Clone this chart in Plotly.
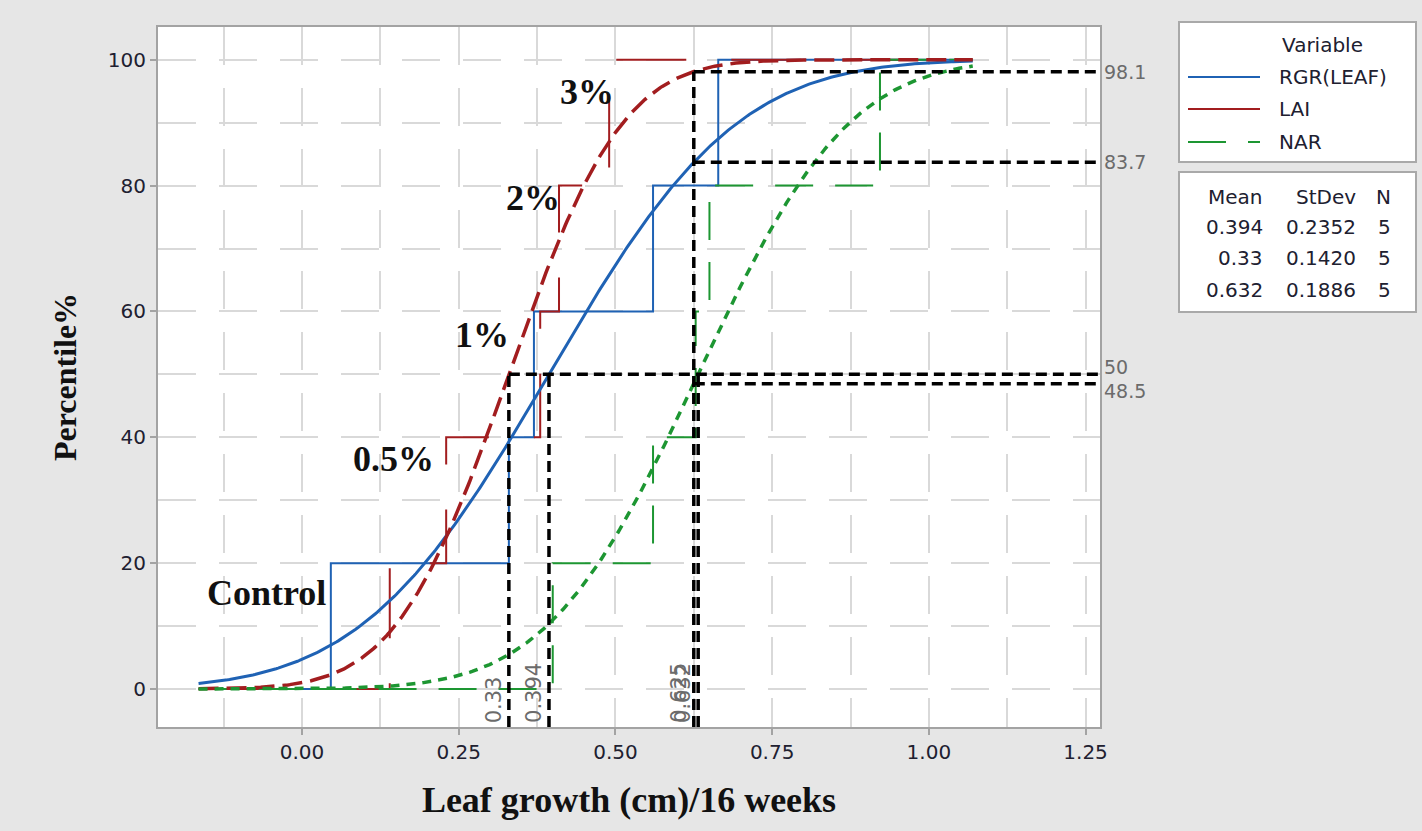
import math
import numpy as np
import plotly.graph_objects as go

# ---------------- data ----------------
variables = ["RGR(LEAF)", "LAI", "NAR"]
rgr_leaf = [0.046, 0.33, 0.37, 0.56, 0.664]
lai = [0.14, 0.23, 0.38, 0.41, 0.49]
nar = [0.40, 0.56, 0.628, 0.65, 0.922]
means = [0.394, 0.33, 0.632]
stdevs = [0.2352, 0.1420, 0.1886]
counts = [5, 5, 5]
mean_text = ["0.394", "0.33", "0.632"]
stdev_text = ["0.2352", "0.1420", "0.1886"]

ref_percentile = 50
ref_x_value = 0.625
ref_x_percentiles = [98.1, 83.7, 48.5]
ref_x_percentile_text = ["98.1", "83.7", "48.5"]
ref_percentile_text = "50"
ref_x_text = "0.625"

treatments = ["Control", "0.5%", "1%", "2%", "3%"]

x_tick_values = [0.0, 0.25, 0.5, 0.75, 1.0, 1.25]
x_tick_labels = ["0.00", "0.25", "0.50", "0.75", "1.00", "1.25"]
y_tick_values = [0, 20, 40, 60, 80, 100]
y_tick_labels = ["0", "20", "40", "60", "80", "100"]

# ---------------- style / layout constants ----------------
X_RANGE = [-0.2297, 1.273]
Y_RANGE = [-6.04, 105.2]
FIT_MIN, FIT_MAX = -0.165, 1.07

colors = ["#1f62b4", "#a21d1f", "#1d9632"]
step_dash = ["solid", "0px,12px,70px,33px", "38px,22px"]
legend_dash = ["solid", "solid", "38px,22px"]
fit_dash = ["solid", "20px,8px", "9px,7px"]

SANS = "DejaVu Sans"
SERIF = "Liberation Serif"
TXT = "#202030"
GRAY_TXT = "#6b6b6b"

datasets = [rgr_leaf, lai, nar]

fig = go.Figure()

# empirical CDF steps
for name, vals, col, dsh in zip(variables, datasets, colors, step_dash):
    n = len(vals)
    xs = [FIT_MIN] + sorted(vals) + [FIT_MAX]
    ys = [0] + [100.0 * (i + 1) / n for i in range(n)] + [100]
    fig.add_trace(go.Scatter(x=xs, y=ys, mode="lines", name=name,
                             line=dict(color=col, width=2, dash=dsh, shape="hv"),
                             showlegend=False, hoverinfo="skip"))

# fitted normal CDFs
xg = np.linspace(FIT_MIN, FIT_MAX, 400)
for name, m, s, col, dsh in zip(variables, means, stdevs, colors, fit_dash):
    yg = [50.0 * (1.0 + math.erf((xv - m) / (s * math.sqrt(2.0)))) for xv in xg]
    fig.add_trace(go.Scatter(x=xg, y=yg, mode="lines", name=name + " fit",
                             line=dict(color=col, width=3.5 if dsh != "solid" else 3, dash=dsh),
                             showlegend=False, hoverinfo="skip"))

# reference lines
REF = dict(color="black", width=3.5, dash="11px,6px")
for m in means:
    fig.add_trace(go.Scatter(x=[m, m], y=[Y_RANGE[0], ref_percentile], mode="lines",
                             line=REF, showlegend=False, hoverinfo="skip"))
fig.add_trace(go.Scatter(x=[min(means), X_RANGE[1]], y=[ref_percentile, ref_percentile],
                         mode="lines", line=REF, showlegend=False, hoverinfo="skip"))
fig.add_trace(go.Scatter(x=[ref_x_value, ref_x_value], y=[Y_RANGE[0], max(ref_x_percentiles)],
                         mode="lines", line=REF, showlegend=False, hoverinfo="skip"))
for p in ref_x_percentiles:
    fig.add_trace(go.Scatter(x=[ref_x_value, X_RANGE[1]], y=[p, p], mode="lines",
                             line=REF, showlegend=False, hoverinfo="skip"))

annotations = []
# right-side percentile labels (the close pair 50 / 48.5 nudged apart slightly)
right_labels = list(zip(ref_x_percentiles + [ref_percentile],
                        ref_x_percentile_text + [ref_percentile_text]))
for p, t in right_labels:
    ys = 0
    if t == ref_percentile_text:
        ys = 7
    elif t == "48.5":
        ys = -7
    annotations.append(dict(x=1, xref="paper", y=p, yref="y", text=t, showarrow=False,
                            xanchor="left", yanchor="middle", xshift=2, yshift=ys,
                            font=dict(family=SANS, size=19, color=GRAY_TXT)))
# bottom rotated x labels
for m, t in zip(means + [ref_x_value], mean_text + [ref_x_text]):
    annotations.append(dict(x=m, xref="x", y=0, yref="paper", text=t, showarrow=False,
                            textangle=-90, xanchor="right", yanchor="bottom", xshift=-1, yshift=2,
                            font=dict(family=SANS, size=21, color=GRAY_TXT)))

# treatment labels
treatment_pos = [(-0.056, 15.3), (0.146, 36.6), (0.287, 56.2), (0.368, 78.0), (0.454, 94.8)]
for t, (tx, ty) in zip(treatments, treatment_pos):
    annotations.append(dict(x=tx, y=ty, xref="x", yref="y", text="<b>%s</b>" % t, showarrow=False,
                            font=dict(family=SERIF, size=36, color="#111111")))

# legend box (drawn)
shapes = []
px_to_xp = lambda px: (px - 158) / 942.0
py_to_yp = lambda py: (727 - py) / 700.0
shapes.append(dict(type="rect", xref="paper", yref="paper",
                   x0=px_to_xp(1179), x1=px_to_xp(1416), y0=py_to_yp(162), y1=py_to_yp(22),
                   fillcolor="white", line=dict(color="#a9a9a9", width=2)))
shapes.append(dict(type="rect", xref="paper", yref="paper",
                   x0=px_to_xp(1179), x1=px_to_xp(1416), y0=py_to_yp(312), y1=py_to_yp(172),
                   fillcolor="white", line=dict(color="#a9a9a9", width=2)))
annotations.append(dict(x=px_to_xp(1322), y=py_to_yp(45), xref="paper", yref="paper",
                        text="Variable", showarrow=False, xanchor="center", yanchor="middle",
                        font=dict(family=SANS, size=20, color=TXT)))
for i, (name, col, dsh) in enumerate(zip(variables, colors, legend_dash)):
    yy = py_to_yp([77, 109, 142][i])
    shapes.append(dict(type="line", xref="paper", yref="paper",
                       x0=px_to_xp(1188), x1=px_to_xp(1260), y0=yy, y1=yy,
                       line=dict(color=col, width=2, dash=dsh)))
    annotations.append(dict(x=px_to_xp(1277), y=yy, xref="paper", yref="paper", text=name,
                            showarrow=False, xanchor="left", yanchor="middle",
                            font=dict(family=SANS, size=20, color=TXT)))

# stats table
col_right = [px_to_xp(1265), px_to_xp(1358), px_to_xp(1393)]
rows_y = [py_to_yp(v) for v in (197, 227, 258, 290)]
header = ["Mean", "StDev", "N"]
table = [header] + [[mt, st, str(c)] for mt, st, c in zip(mean_text, stdev_text, counts)]
for r, row in enumerate(table):
    for c, cell in enumerate(row):
        annotations.append(dict(x=col_right[c], y=rows_y[r], xref="paper", yref="paper",
                                text=cell, showarrow=False, xanchor="right", yanchor="middle",
                                font=dict(family=SANS, size=20, color=TXT)))

GRID = "#d9d9d9"
axis_common = dict(showline=True, mirror=True, linecolor="#a3a3a3", linewidth=2,
                   ticks="outside", ticklen=6, tickcolor="#a3a3a3", tickwidth=1.5,
                   showgrid=True, gridcolor=GRID, gridwidth=1.5, griddash="38px,23px",
                   zeroline=False, tickfont=dict(family=SANS, size=20, color=TXT))

fig.update_layout(
    width=1422, height=831,
    margin=dict(l=158, r=322, t=27, b=104),
    paper_bgcolor="#e6e6e6", plot_bgcolor="white",
    showlegend=False,
    xaxis=dict(range=X_RANGE, tickvals=x_tick_values, ticktext=x_tick_labels,
               minor=dict(dtick=0.125, tick0=0, showgrid=True, gridcolor=GRID, gridwidth=1.5,
                          griddash="38px,23px", ticks=""),
               title=dict(text="<b>Leaf growth (cm)/16 weeks</b>", standoff=24,
                          font=dict(family=SERIF, size=36, color="#111111")),
               **axis_common),
    yaxis=dict(range=Y_RANGE, tickvals=y_tick_values, ticktext=y_tick_labels,
               minor=dict(dtick=10, tick0=0, showgrid=True, gridcolor=GRID, gridwidth=1.5,
                          griddash="38px,23px", ticks=""),
               title=dict(text="<b>Percentile%</b>", standoff=22,
                          font=dict(family=SERIF, size=32, color="#111111")),
               **axis_common),
    annotations=annotations,
    shapes=shapes,
)

fig.write_html("out.html")
